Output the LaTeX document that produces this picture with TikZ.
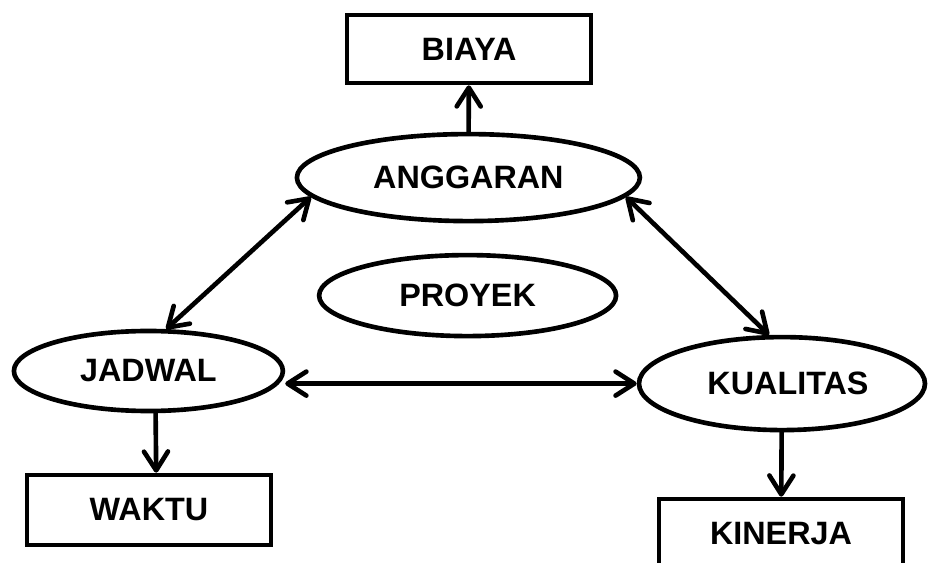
\documentclass[tikz,border=0pt]{standalone}
\usepackage{fontspec}
\setmainfont{Liberation Sans}
\usetikzlibrary{shapes.geometric, arrows.meta}

\begin{document}
\begin{tikzpicture}[line width=3.3pt,
  every node/.style={font=\fontsize{23}{27}\selectfont\bfseries, inner sep=0pt},
  ell/.style={ellipse, draw},
  kotak/.style={rectangle, draw, minimum width=6.1cm, minimum height=1.75cm},
  arr/.style={-{Straight Barb[length=0.47cm, width=0.6cm, line cap=round, line join=round]}, line cap=round},
  biarr/.style={{Straight Barb[length=0.47cm, width=0.6cm, line cap=round, line join=round]}-{Straight Barb[length=0.47cm, width=0.6cm, line cap=round, line join=round]}}]
  \useasboundingbox (0cm, 0cm) rectangle (23.2cm, 14.05cm);
  \clip (0cm, 0cm) rectangle (23.2cm, 14.05cm);
  \node [kotak, minimum height=1.7cm] (biaya) at (11.725cm, 12.825cm) {BIAYA};
  \node [ell, minimum width=8.575cm, minimum height=2.175cm] (anggaran) at (11.71cm, 9.61cm) {ANGGARAN};
  \node [ell, minimum width=7.425cm, minimum height=2.025cm] (proyek) at (11.69cm, 6.66cm) {PROYEK};
  \node [ell, minimum width=6.725cm, minimum height=2cm] (jadwal) at (3.71cm, 4.775cm) {JADWAL};
  \node [ell, minimum width=7.15cm, minimum height=2.325cm] (kualitas) at (19.55cm, 4.46cm) {\hspace{0.3cm}KUALITAS};
  \node [kotak] (waktu) at (3.725cm, 1.3cm) {WAKTU};
  \node [kotak] (kinerja) at (19.525cm, 0.7cm) {KINERJA};
  \draw [arr] (anggaran) -- (biaya);
  \draw [arr] ([xshift=0.18cm]jadwal.south) -- ([xshift=0.18cm]waktu.north);
  \draw [arr] (kualitas) -- (kinerja);
  \draw [biarr] (anggaran.187) -- (jadwal.67);
  \draw [biarr] (anggaran.353) -- (kualitas.105.5);
  \draw [biarr] (kualitas.west -| jadwal.east) -- (kualitas.west);
\end{tikzpicture}
\end{document}
